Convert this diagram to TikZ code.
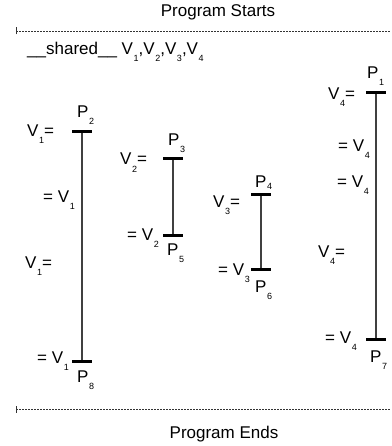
\documentclass[tikz,border=0pt]{standalone}
\usepackage{fontspec}
\setmainfont{Liberation Sans}
\usetikzlibrary{arrows.meta}
\newcommand{\ix}[3][7pt]{#2\kern0.6pt\raisebox{-#1}{\fontsize{9}{9}\selectfont #3}}

\begin{document}
\begin{tikzpicture}[x=1pt,y=-1pt,
    every node/.style={inner sep=0pt,font=\fontsize{17}{20}\selectfont},
    life/.style={line width=1.1pt,black!75},
    bar/.style={line width=3pt},
    sep/.style={line width=0.7pt,black!80,dash pattern=on 2pt off 1pt,{Bar[width=7pt]}-}]
  \useasboundingbox (0,0) rectangle (391,446);
  % program start / end
  \node[anchor=base] (start) at (218,17) {Program Starts};
  \coordinate (s0) at (15.5,31);
  \coordinate (s1) at (391,31);
  \draw[sep] (s0) -- (s1);
  \node[anchor=base west] (shared) at (27,55)
    {\_\_shared\_\_ \ix{V}{1},\ix{V}{2},\ix{V}{3},\ix{V}{4}};
  \coordinate (e0) at (15.5,409);
  \coordinate (e1) at (391,409);
  \draw[sep] (e0) -- (e1);
  \node[anchor=base] (end) at (224,438) {Program Ends};
  % lifelines
  \coordinate (p2) at (82,132);   \coordinate (p8) at (82,361);
  \coordinate (p3) at (173,159);  \coordinate (p5) at (173,235);
  \coordinate (p4) at (261,194);  \coordinate (p6) at (261,269);
  \coordinate (p1) at (376,93);   \coordinate (p7) at (376,339);
  \draw[life] (p2) -- (p8);
  \draw[life] (p3) -- (p5);
  \draw[life] (p4) -- (p6);
  \draw[life] (p1) -- (p7);
  \draw[bar] (p2) ++(-10,0) -- ++(20,0);
  \draw[bar] (p8) ++(-10,0) -- ++(20,0);
  \draw[bar] (p3) ++(-10,0) -- ++(20,0);
  \draw[bar] (p5) ++(-10,0) -- ++(20,0);
  \draw[bar] (p4) ++(-10,0) -- ++(20,0);
  \draw[bar] (p6) ++(-10,0) -- ++(20,0);
  \draw[bar] (p1) ++(-10,0) -- ++(20,0);
  \draw[bar] (p7) ++(-10,0) -- ++(20,0);
  % process names
  \node[anchor=base west] (n2) at (77,118)  {\ix{P}{2}};
  \node[anchor=base west] (n8) at (77,382)  {\ix{P}{8}};
  \node[anchor=base west] (n3) at (168,146) {\ix{P}{3}};
  \node[anchor=base west] (n5) at (167,255) {\ix{P}{5}};
  \node[anchor=base west] (n4) at (255,187) {\ix[2pt]{P}{4}};
  \node[anchor=base west] (n6) at (255,292) {\ix{P}{6}};
  \node[anchor=base west] (n1) at (367,79)  {\ix{P}{1}};
  \node[anchor=base west] (n7) at (370,362) {\ix{P}{7}};
  % reads and writes
  \node[anchor=base west] (w1a) at (27,137)  {\ix{V}{1}=};
  \node[anchor=base west] (r1a) at (43,202)  {= \ix{V}{1}};
  \node[anchor=base west] (w1b) at (25,268)  {\ix{V}{1}=};
  \node[anchor=base west] (r1b) at (37,363)  {= \ix{V}{1}};
  \node[anchor=base west] (w2)  at (120,165) {\ix{V}{2}=};
  \node[anchor=base west] (r2)  at (127,240) {= \ix{V}{2}};
  \node[anchor=base west] (w3)  at (213,207) {\ix{V}{3}=};
  \node[anchor=base west] (r3)  at (218,275) {= \ix{V}{3}};
  \node[anchor=base west] (w4a) at (328,100) {\ix{V}{4}=};
  \node[anchor=base west] (r4a) at (338,152) {= \ix{V}{4}};
  \node[anchor=base west] (r4b) at (337,187) {= \ix{V}{4}};
  \node[anchor=base west] (w4b) at (318,257) {\ix{V}{4}=};
  \node[anchor=base west] (r4c) at (325,343) {= \ix{V}{4}};
\end{tikzpicture}
\end{document}
